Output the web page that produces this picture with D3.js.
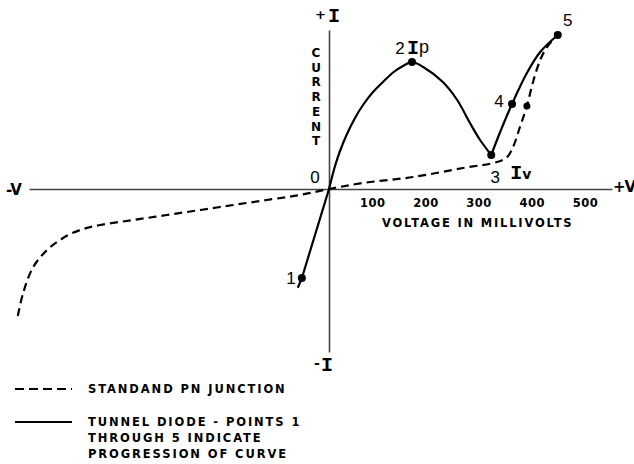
<!DOCTYPE html>
<html><head><meta charset="utf-8">
<script src="https://cdn.jsdelivr.net/npm/d3@7/dist/d3.min.js"></script>
<style>
html,body{margin:0;padding:0;background:#fff;}
svg{display:block;}
.small{font-family:"DejaVu Sans",sans-serif;font-weight:bold;font-size:11.5px;fill:#000;}
.big{font-family:"Liberation Mono","DejaVu Sans Mono",monospace;font-weight:bold;font-size:20px;fill:#000;}
.num{font-family:"Liberation Sans","DejaVu Sans",sans-serif;font-size:17px;fill:#000;}
</style></head>
<body>
<script>
// ---- data (voltage in mV, current in arbitrary units) ----
const tickValues = [100, 200, 300, 400, 500];
const tunnelV = [-58, -51, 0, 11.3, 20.7, 33.8, 48.9, 63.9, 82.7, 101.5, 120.3, 139, 156, 177, 214, 241, 265, 284, 305, 321, 344, 372, 397, 430];
const tunnelI = [-9.8, -8.9, 0, 2.3, 3.8, 5.5, 7.1, 8.4, 9.7, 10.7, 11.65, 12.3, 12.7, 12.2, 10.7, 8.9, 6.6, 4.9, 3.4, 5.6, 8.5, 11.6, 13.7, 15.4];
const tunnelBreaks = [2, 18]; // origin and valley: corners of the drawn curve
const pnV = [-585, -575, -556, -530, -500, -468, -430, -368, -305, -242, -180, -117, -55, 0, 64, 158, 252, 316, 335, 346, 359, 372, 383, 397, 410, 430];
const pnI = [-12.7, -10.4, -7.8, -6.1, -4.9, -4.1, -3.6, -3.1, -2.6, -2.1, -1.6, -1.1, -0.6, 0, 0.6, 1.2, 2.1, 2.7, 3.2, 4.2, 6.2, 8.3, 10.6, 12.9, 14.2, 15.4];
const pointLabels = ["1", "2", "3", "4", "5"];
const pointV = [-51, 156, 305, 344, 430];
const pointI = [-8.9, 12.7, 3.4, 8.5, 15.4];
const pnDotV = [372];
const pnDotI = [8.3];
const legendLabels = ["STANDAND PN JUNCTION", "TUNNEL DIODE - POINTS 1", "THROUGH 5 INDICATE", "PROGRESSION OF CURVE"];
const yLetters = "CURRENT".split("");

const W = 634, H = 464;
const svg = d3.select("body").append("svg").attr("width", W).attr("height", H);

const x = d3.scaleLinear().domain([-564, 532]).range([29, 612]);
const y = d3.scaleLinear().domain([-16.3, 15.9]).range([352, 30]);

// horizontal axis
const gx = svg.append("g").attr("transform", `translate(0,${y(0)})`)
  .call(d3.axisBottom(x).tickValues(tickValues).tickSize(0).tickSizeOuter(0).tickPadding(10).tickFormat(d3.format("d")));
gx.select(".domain").attr("stroke", "#444").attr("stroke-width", 1.6);
gx.selectAll("text").attr("class", "small").attr("dx", -10).attr("font-family", null).attr("font-size", null)
  .style("letter-spacing", "0.5px");

// vertical axis
const gy = svg.append("g").attr("transform", `translate(${x(0)},0)`)
  .call(d3.axisLeft(y).tickValues([]).tickSize(0).tickSizeOuter(0));
gy.select(".domain").attr("stroke", "#444").attr("stroke-width", 1.6);

// axis end labels
svg.append("text").attr("class", "small").attr("x", 6).attr("y", y(0) + 6).style("font-size", "15px").style("letter-spacing", "-1px").text("-V");
svg.append("text").attr("class", "small").attr("x", 613).attr("y", y(0) + 3).style("font-size", "15px").style("letter-spacing", "-1px").text("+V");
svg.append("text").attr("class", "small").attr("x", 315).attr("y", 19).style("font-size", "13px").text("+");
svg.append("text").attr("class", "big").attr("x", 328).attr("y", 22).text("I");
svg.append("text").attr("class", "small").attr("x", 314).attr("y", 368).style("font-size", "14px").text("-");
svg.append("text").attr("class", "big").attr("x", 321).attr("y", 371).text("I");

// axis titles
svg.append("text").attr("class", "small").attr("x", 382).attr("y", 227).style("letter-spacing", "1.8px").text("VOLTAGE IN MILLIVOLTS");
svg.selectAll("text.ylet").data(yLetters).join("text")
  .attr("class", "small ylet").attr("text-anchor", "middle").style("font-size", "12px")
  .attr("x", 316).attr("y", (d, i) => 57 + i * 14.7).text(d => d);

// curves
const tunnel = tunnelV.map((v, i) => [v, tunnelI[i]]);
const pn = pnV.map((v, i) => [v, pnI[i]]);
const line = d3.line().x(d => x(d[0])).y(d => y(d[1])).curve(d3.curveCatmullRom.alpha(0.5));
const lineStraight = d3.line().x(d => x(d[0])).y(d => y(d[1]));

svg.append("path").attr("d", line(pn)).attr("fill", "none").attr("stroke", "#000")
  .attr("stroke-width", 2.2).attr("stroke-dasharray", "8,5");
const segs = [
  [tunnel.slice(0, tunnelBreaks[0] + 1), lineStraight],
  [tunnel.slice(tunnelBreaks[0], tunnelBreaks[1] + 1), line],
  [tunnel.slice(tunnelBreaks[1]), line]
];
segs.forEach(([pts, gen]) => {
  svg.append("path").attr("d", gen(pts)).attr("fill", "none").attr("stroke", "#000")
    .attr("stroke-width", 2.2).attr("stroke-linejoin", "round").attr("stroke-linecap", "round");
});

// dots
svg.selectAll("circle.pt").data(pointV.map((v, i) => [v, pointI[i]])).join("circle")
  .attr("class", "pt").attr("cx", d => x(d[0])).attr("cy", d => y(d[1])).attr("r", 4).attr("fill", "#000");
svg.selectAll("circle.pn").data(pnDotV.map((v, i) => [v, pnDotI[i]])).join("circle")
  .attr("class", "pn").attr("cx", d => x(d[0])).attr("cy", d => y(d[1])).attr("r", 3.5).attr("fill", "#000");

// point labels
const offs = [[-11, 6], [-12, -8], [4, 28], [-13, 3], [10, -9]];
svg.selectAll("text.plab").data(pointLabels).join("text")
  .attr("class", "num plab").attr("text-anchor", "middle")
  .attr("x", (d, i) => x(pointV[i]) + offs[i][0])
  .attr("y", (d, i) => y(pointI[i]) + offs[i][1]).text(d => d);
// Ip
svg.append("text").attr("class", "big").attr("x", x(pointV[1]) - 5).attr("y", y(pointI[1]) - 8).text("I");
svg.append("text").attr("class", "num").attr("x", x(pointV[1]) + 7).attr("y", y(pointI[1]) - 9).style("font-size", "18px").text("p");
// Iv
const iv = svg.append("text").attr("class", "big").attr("x", x(pointV[2]) + 19).attr("y", y(pointI[2]) + 24);
iv.append("tspan").text("I");
iv.append("tspan").attr("dx", 0).style("font-size", "14px").style("font-family", "DejaVu Sans").text("v");
// origin label
svg.append("text").attr("class", "num").attr("text-anchor", "middle").attr("x", x(0) - 14).attr("y", y(0) - 6).text("0");

// legend
svg.append("line").attr("x1", 15).attr("x2", 72).attr("y1", 389).attr("y2", 389)
  .attr("stroke", "#000").attr("stroke-width", 2.2).attr("stroke-dasharray", "9,5");
svg.append("line").attr("x1", 15).attr("x2", 72).attr("y1", 422).attr("y2", 422)
  .attr("stroke", "#000").attr("stroke-width", 2.2);
const legY = [393, 426, 442, 458];
svg.selectAll("text.leg").data(legendLabels).join("text")
  .attr("class", "small leg").style("letter-spacing", "1.9px")
  .attr("x", 88).attr("y", (d, i) => legY[i]).text(d => d);
</script>
</body></html>
